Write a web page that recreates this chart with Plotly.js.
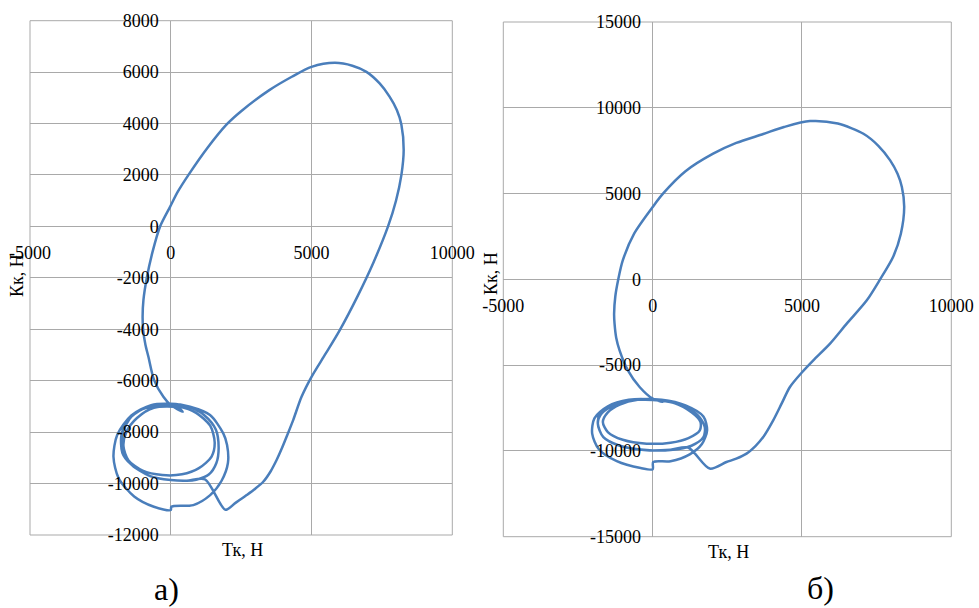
<!DOCTYPE html>
<html>
<head>
<meta charset="utf-8">
<script src="https://cdn.plot.ly/plotly-3.0.1.min.js"></script>
<style>html,body{margin:0;padding:0;background:#fff;}#chart{width:979px;height:608px;}</style>
</head>
<body>
<div id="chart"></div>
<script>
// ---- Data: chart а) ----
var tkA = [1940,2300,2695,3000,3284,3550,3759,3950,4113,4348,4645,5000,5500,6004,6650,7200,7717,8000,8191,8273,8191,8030,7777,7420,6950,6450,5826,5000,4300,3500,2500,1986,1300,624,250,-25,-379,-650,-851,-971,-1000,-980,-900,-794,-592,-262,0,425,250,
  -600,-1200,-1580,-1680,-1500,-1000,-300,400,1000,1450,1560,1400,900,300,-300,
  -1000,-1500,-1750,-1720,-1443,-734,0,567,900,1350,1620,1700,1600,1200,600,0,
  -700,-1400,-1900,-2035,-1850,-1300,-600,0,20,801,1400,1800,2030,2000,1865,1394,684,0,
  -800,-1400,-1700,-1720,-1443,-734,0,567,1216,1940];
var kkA = [-11020,-10750,-10447,-10200,-9930,-9520,-9086,-8620,-8180,-7531,-6625,-5847,-4950,-4032,-2680,-1400,0,1000,1995,2967,3966,4530,5040,5560,6011,6250,6361,6205,5820,5300,4480,3966,3050,1995,1350,762,0,-1000,-2000,-2870,-3500,-4030,-4600,-5070,-5976,-6625,-6948,-7208,-7040,
  -7050,-7450,-8000,-8550,-9100,-9500,-9670,-9640,-9400,-8950,-8400,-7750,-7250,-7000,-6960,
  -7100,-7500,-8100,-8800,-9215,-9709,-9864,-9891,-9850,-9650,-9200,-8600,-7900,-7350,-7000,-6900,
  -6950,-7350,-8100,-8958,-9800,-10500,-10900,-11030,-10900,-10836,-10450,-9900,-9200,-8500,-8048,-7337,-7014,-6900,
  -7000,-7400,-8000,-8600,-9215,-9709,-9864,-9891,-9837,-11020];

// ---- Data: chart б) ----
var tkB = [1913,2473,2800,3144,3450,3703,4037,4318,4597,5011,5380,5940,6499,7171,7617,8050,8311,8423,8345,8200,7953,7550,7058,6200,5268,4400,3703,2800,2025,1100,347,0,-620,-1000,-1150,-1250,-1290,-1275,-1220,-1107,-828,-436,0,324,150,
  -500,-1100,-1500,-1667,-1500,-1000,-200,600,1200,1580,1600,1300,700,0,
  -700,-1300,-1750,-1835,-1650,-1100,-200,600,1300,1700,1745,1500,800,0,
  -800,-1500,-1950,-2024,-1800,-1200,-400,0,20,600,1242,1650,1823,1700,1100,300,
  -500,-1200,-1700,-1835,-1650,-1100,-200,600,1186,1913];
var kkB = [-11030,-10646,-10450,-10157,-9700,-9190,-8217,-7245,-6274,-5400,-4720,-3749,-2584,-1224,0,1300,2663,4213,5380,6150,6935,7800,8488,9080,9225,8880,8470,7950,7323,6300,4994,4213,2663,1100,0,-1000,-2000,-2584,-3400,-4138,-5303,-6274,-6953,-7149,-7020,
  -7020,-7300,-7750,-8314,-8900,-9350,-9576,-9520,-9250,-8800,-8300,-7750,-7200,-7030,
  -7020,-7300,-7800,-8410,-9200,-9700,-9950,-9950,-9700,-9200,-8600,-7900,-7250,-7000,
  -7020,-7400,-8100,-8993,-9900,-10600,-11000,-11072,-10646,-10600,-10200,-9600,-8800,-8000,-7350,-7020,
  -7000,-7280,-7800,-8410,-9200,-9700,-9965,-9930,-9800,-11030];

// ---- Tick labels ----
var xTickVals = [-5000, 0, 5000, 10000];
var xTickText = ['-5000', '0', '5000', '10000'];
var yTickValsA = [-12000, -10000, -8000, -6000, -4000, -2000, 0, 2000, 4000, 6000, 8000];
var yTickTextA = ['-12000', '-10000', '-8000', '-6000', '-4000', '-2000', '0', '2000', '4000', '6000', '8000'];
var yTickValsB = [-15000, -10000, -5000, 0, 5000, 10000, 15000];
var yTickTextB = ['-15000', '-10000', '-5000', '0', '5000', '10000', '15000'];

var W = 979, H = 608;
var lineColor = '#4a7ebb';
var gridColor = '#a9a9a9';
var serif = 'Liberation Serif, Times New Roman, serif';

var traces = [
  {x: tkA, y: kkA, xaxis: 'x', yaxis: 'y', type: 'scatter', mode: 'lines',
   line: {color: lineColor, width: 2.5, shape: 'spline', smoothing: 0.8}, hoverinfo: 'skip'},
  {x: tkB, y: kkB, xaxis: 'x2', yaxis: 'y2', type: 'scatter', mode: 'lines',
   line: {color: lineColor, width: 2.5, shape: 'spline', smoothing: 0.8}, hoverinfo: 'skip'}
];

function xAx(domain, pos) {
  return {domain: domain, range: [-5000, 10000], anchor: 'free', position: pos,
    tickmode: 'array', tickvals: xTickVals, ticktext: xTickText,
    showgrid: true, gridcolor: gridColor, gridwidth: 1,
    zeroline: true, zerolinecolor: gridColor, zerolinewidth: 1,
    showline: false, ticks: '', ticklabelstandoff: 14,
    tickfont: {family: serif, size: 18, color: '#000'}, fixedrange: true};
}
function yAx(domain, pos, range, vals, text) {
  return {domain: domain, range: range, anchor: 'free', position: pos,
    tickmode: 'array', tickvals: vals, ticktext: text,
    showgrid: true, gridcolor: gridColor, gridwidth: 1,
    zeroline: true, zerolinecolor: gridColor, zerolinewidth: 1,
    showline: false, ticks: '', ticklabelstandoff: 12,
    tickfont: {family: serif, size: 18, color: '#000'}, fixedrange: true};
}

function ann(text, px, py, size, angle) {
  return {text: text, xref: 'paper', yref: 'paper', x: px / W, y: 1 - py / H,
    xanchor: 'center', yanchor: 'middle', showarrow: false, textangle: angle || 0,
    font: {family: serif, size: size, color: '#000'}};
}

var layout = {
  width: W, height: H,
  margin: {l: 0, r: 0, t: 0, b: 0},
  paper_bgcolor: '#fff', plot_bgcolor: '#fff',
  showlegend: false,
  font: {family: serif, size: 18, color: '#000'},
  xaxis: xAx([30 / W, 452.3 / W], 1 - 226.3 / H),
  yaxis: yAx([1 - 535 / H, 1 - 20.7 / H], 170.7 / W, [-12000, 8000], yTickValsA, yTickTextA),
  xaxis2: xAx([503.3 / W, 951.3 / W], 1 - 279 / H),
  yaxis2: yAx([1 - 536.7 / H, 1 - 22 / H], 653 / W, [-15000, 15000], yTickValsB, yTickTextB),
  shapes: [
    {type: 'rect', xref: 'x domain', yref: 'y domain', x0: 0, x1: 1, y0: 0, y1: 1, line: {color: gridColor, width: 1}, layer: 'below'},
    {type: 'rect', xref: 'x2 domain', yref: 'y2 domain', x0: 0, x1: 1, y0: 0, y1: 1, line: {color: gridColor, width: 1}, layer: 'below'}
  ],
  annotations: [
    ann('Тк, Н', 242, 550, 18),
    ann('Кк, Н', 17, 276, 18, -90),
    ann('Тк, Н', 728, 552, 18),
    ann('Кк, Н', 491, 274, 18, -90),
    ann('а)', 166, 589, 32),
    ann('б)', 820, 588, 32)
  ]
};

Plotly.newPlot('chart', traces, layout, {displayModeBar: false, staticPlot: true});
</script>
</body>
</html>
